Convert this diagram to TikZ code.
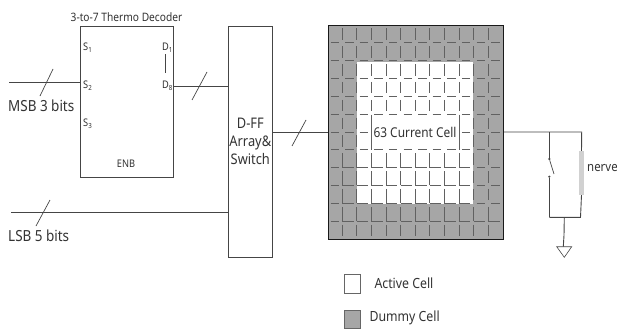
\documentclass[tikz,border=0pt]{standalone}
\usepackage{fontspec}
\setmainfont[FakeStretch=0.88]{Noto Sans}
\definecolor{wire}{gray}{0.27}
\definecolor{dummy}{gray}{0.65}
\definecolor{gridc}{gray}{0.38}
\tikzset{
  wireline/.style={draw=wire,line width=0.9pt},
  blockbox/.style={draw=wire,line width=1pt,fill=white,inner sep=0pt,anchor=north west},
  lab/.style={inner sep=0pt,text=black!80,font=\fontsize{12}{14}\selectfont},
  pin/.style={inner sep=0pt,text=black!80,font=\fontsize{10.5}{12}\selectfont},
  slash/.style={draw=wire,line width=0.7pt},
  cellline/.style={draw=gridc,line width=0.75pt},
  legendbox/.style={draw=black!60,line width=0.8pt,minimum width=15.7pt,inner sep=0pt,anchor=north west},
  dotc/.style={circle,fill=wire,inner sep=0pt,minimum size=2.4pt}
}
\newcommand{\subp}[2]{#1\raisebox{-2pt}{\fontsize{7}{7}\selectfont #2}}
\begin{document}
\begin{tikzpicture}[x=1pt,y=-1pt]
\useasboundingbox (0,0) rectangle (617,329);
% cell array
\node[blockbox,draw=black!90,line width=1.1pt,fill=dummy,minimum width=175.2pt,minimum height=214pt] (array) at (327.5,25) {};
\fill[white] (356.7,61.7) rectangle (473.3,204.3);
\foreach \j in {0,...,11}{
  \foreach \i in {1,...,11}{
    \pgfmathsetmacro{\xx}{327.5+\i*14.6}
    \pgfmathsetmacro{\ya}{25+\j*17.83+3.5}
    \pgfmathsetmacro{\yb}{25+\j*17.83+15}
    \ifnum\j>6 \ifnum\j<11 \ifnum\i<10 \pgfmathsetmacro{\yb}{25+\j*17.83+17.83}\fi\fi\fi
    \ifnum\j=10 \pgfmathsetmacro{\yb}{25+\j*17.83+17.83}\fi
    \ifnum\j>4 \ifnum\j<7 \ifnum\i>2 \ifnum\i<9 \def\xx{-50}\fi\fi\fi\fi
    \draw[cellline] (\xx,\ya) -- (\xx,\yb);
  }
}
\foreach \j in {1,...,11}{
  \foreach \i in {0,...,11}{
    \pgfmathsetmacro{\xa}{327.5+\i*14.6+3}
    \pgfmathsetmacro{\xb}{327.5+\i*14.6+11.5}
    \pgfmathsetmacro{\yy}{25+\j*17.83}
    \ifnum\j>7 \ifnum\i>0 \ifnum\i<10 \pgfmathsetmacro{\xa}{327.5+\i*14.6}\fi\fi\fi
    \ifnum\j=11 \ifnum\i>0 \pgfmathsetmacro{\xa}{327.5+\i*14.6}\fi\fi
    \ifnum\j=6 \ifnum\i>2 \ifnum\i<9 \def\yy{-50}\fi\fi\fi
    \draw[cellline] (\xa,\yy) -- (\xb,\yy);
  }
}
\draw[cellline] (371.3,114.5) -- (371.3,150) (459,114.5) -- (459,150);
\node[lab,font=\fontsize{13.5}{15}\selectfont] (cells) at (415,132) {63 Current Cell};
% blocks
\node[blockbox,minimum width=93.6pt,minimum height=151.3pt] (dec) at (79.7,25.7) {};
\node[blockbox,minimum width=43.7pt,minimum height=231pt] (dff) at (228.3,25.7) {};
\node[lab,font=\fontsize{11.6}{13}\selectfont] (title) at (126.5,17) {3-to-7 Thermo Decoder};
\node[lab,font=\fontsize{14.6}{18}\selectfont,align=center] (dfft) at (250.3,141) {D-FF\\Array\&\\Switch};
\node[pin,anchor=west] (s1) at (83,47.5) {\subp{S}{1}};
\node[pin,anchor=west] (s2) at (83,85.5) {\subp{S}{2}};
\node[pin,anchor=west] (s3) at (83,124) {\subp{S}{3}};
\node[pin,anchor=east] (d1) at (172.5,47.5) {\subp{D}{1}};
\node[pin,anchor=east] (d8) at (172.5,85.5) {\subp{D}{8}};
\node[pin] (enb) at (126,164) {ENB};
\draw[wireline,line width=0.7pt] (165,54) -- (165,73);
% wires
\coordinate (msbin) at (9,82);
\coordinate (lsbin) at (11,212);
\draw[wireline] (msbin) -- (dec.west |- msbin);
\draw[wireline] (dec.east |- 0,86) -- (dff.west |- 0,86);
\draw[wireline] (lsbin) -- (dff.west |- lsbin);
\draw[wireline] (dff.east |- 0,132) -- (array.west |- 0,132);
\coordinate (sw) at (549.3,132);
\coordinate (ntop) at (581.7,132);
\coordinate (swb) at (549.3,217.3);
\coordinate (nbot) at (580.5,217.3);
\coordinate (gtop) at (564.3,217.3);
\coordinate (gbend) at (563.3,246.7);
\draw[wireline] (array.east |- sw) -- (ntop) -- (581.5,151);
\draw[wireline] (581.5,195) -- (nbot) -- (swb);
\node[dotc] (p1) at (549.3,159) {};
\node[dotc] (p2) at (549.3,176.7) {};
\draw[wireline] (sw) -- (p1);
\draw[wireline] (p2) -- (swb);
\draw[wireline,line width=0.7pt] (p1) -- (554,174);
\draw[draw=black!18,line width=5.5pt] (581.5,151) -- (581.5,195);
\draw[wireline] (gtop) -- (564,235) -- (gbend);
\draw[wireline,line width=0.6pt] (556.7,246.7) -- (571.7,246.7) -- (564.3,257.3) -- cycle;
% bus slashes
\draw[slash] (40,96) -- (53,69);
\draw[slash] (192,100) -- (207,72);
\draw[slash] (36,226) -- (50,200);
\draw[slash] (292,146) -- (306,120);
% labels
\node[lab,font=\fontsize{15.3}{17}\selectfont,anchor=west] (msb) at (8,106) {MSB 3 bits};
\node[lab,font=\fontsize{15.3}{17}\selectfont,anchor=west] (lsb) at (8,236) {LSB 5 bits};
\node[lab,font=\fontsize{13}{15}\selectfont,anchor=west] (nerve) at (587,168) {nerve};
% legend
\node[legendbox,fill=white,minimum height=19pt] (la) at (344.3,274.3) {};
\node[legendbox,fill=dummy,minimum height=18.3pt] (ld) at (344.3,310) {};
\node[lab,font=\fontsize{14}{16}\selectfont,anchor=west] (lat) at (374.3,283) {Active Cell};
\node[lab,font=\fontsize{14}{16}\selectfont,anchor=west] (ldt) at (369.3,318) {Dummy Cell};
\end{tikzpicture}
\end{document}
